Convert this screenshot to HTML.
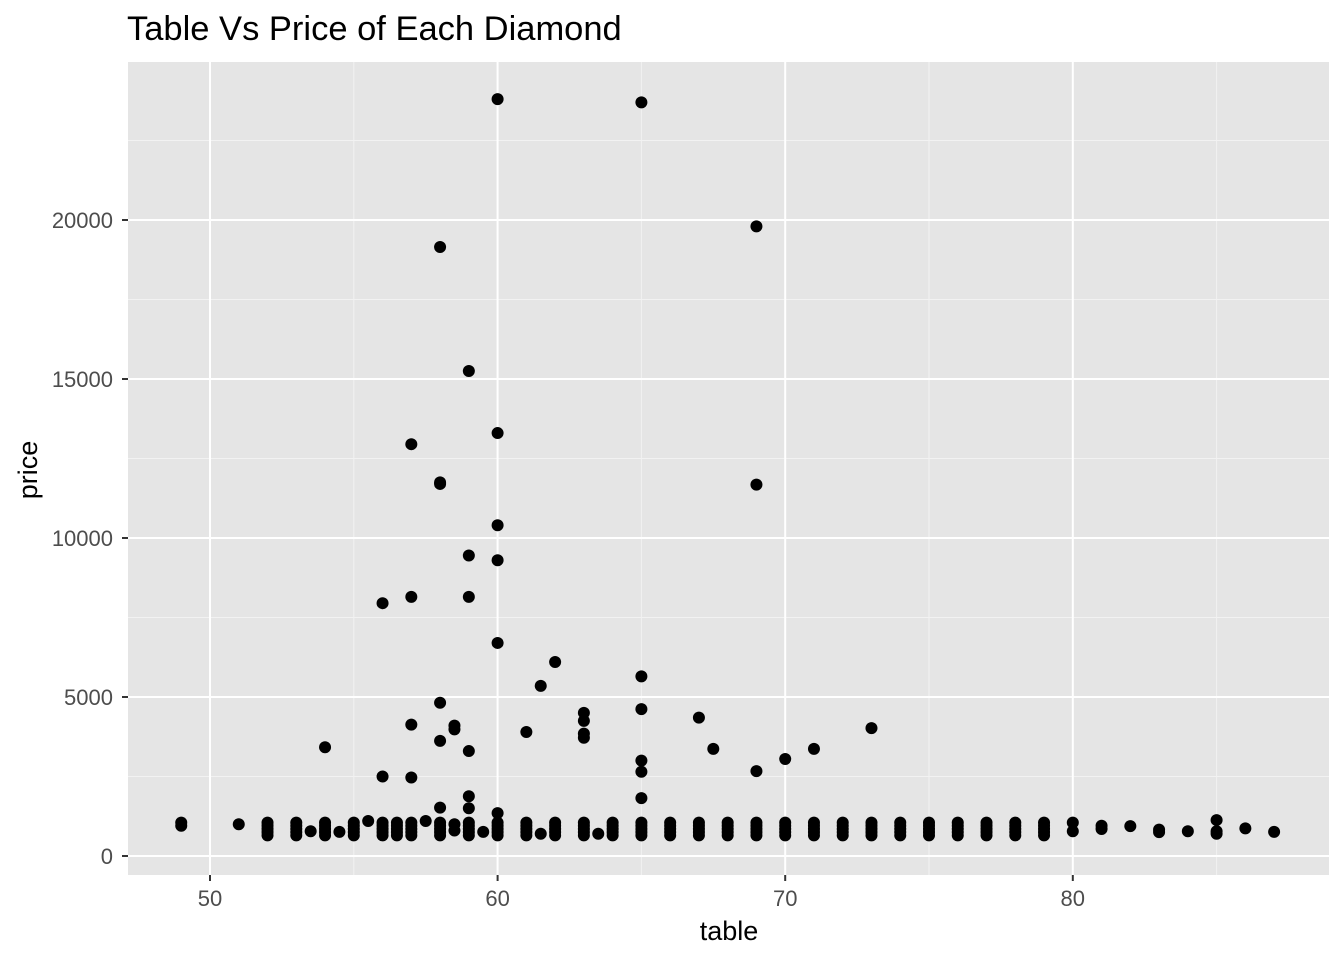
<!DOCTYPE html>
<html><head><meta charset="utf-8"><style>
body{margin:0;background:#fff;font-family:"Liberation Sans",Arial,sans-serif}
svg text{font-family:"Liberation Sans",Arial,sans-serif}
</style></head><body>
<svg id="chart" width="1344" height="960" xmlns="http://www.w3.org/2000/svg">
<rect x="128" y="62" width="1201" height="813" fill="#e5e5e5"/>
<g id="grid"></g><g id="ticks"></g><g id="pts"></g>
<text x="127" y="40" font-size="34.5" fill="#000">Table Vs Price of Each Diamond</text>
<text x="729" y="940" font-size="27" text-anchor="middle" fill="#000">table</text>
<text transform="translate(37,470) rotate(-90)" font-size="27" text-anchor="middle" fill="#000">price</text>
</svg>
<script>
const xTicks=[50,60,70,80];
const xMinor=[55,65,75,85];
const yTicks=[0,5000,10000,15000,20000];
const yMinor=[2500,7500,12500,17500,22500];
const outlierTable=[60,65,69,58,59,60,57,58,58,69,60,59,60,56,57,59,60,62,61.5,65,58,65,63,63,67,57,58.5,58.5,73,61,63,63,58,54,67.5,71,59,70,65,65,69,56,57,59,65,58,59,60];
const outlierPrice=[23800,23700,19800,19150,15250,13300,12950,11700,11750,11680,10400,9450,9300,7950,8150,8150,6700,6100,5350,5650,4820,4620,4500,4250,4350,4130,4100,3980,4020,3900,3850,3720,3620,3420,3370,3370,3300,3050,3000,2650,2670,2500,2470,1880,1820,1520,1500,1350];
const bandTables=[52,53,54,55,56,56.5,57,58,59,60,61,62,63,64,65,66,67,68,69,70,71,72,73,74,75,76,77,78,79];
const bandPrices=[650,750,850,950,1050];
const extraTable=[49,49,51,53.5,54.5,55.5,57.5,58.5,58.5,59.5,61.5,63.5,80,80,81,81,82,83,83,84,85,85,85,86,87];
const extraPrice=[950,1050,1000,780,760,1100,1100,800,1000,760,700,700,780,1050,850,950,940,750,830,780,700,780,1130,870,760];
const X=v=>210+(v-50)*28.76, Y=v=>856-v*0.0318;
const ns="http://www.w3.org/2000/svg";
const grid=document.getElementById('grid'),tk=document.getElementById('ticks'),pts=document.getElementById('pts');
function mk(p,tag,a){const e=document.createElementNS(ns,tag);for(const k in a)e.setAttribute(k,a[k]);p.appendChild(e);return e;}
xMinor.forEach(v=>{const e=mk(grid,'line',{x1:X(v),x2:X(v),y1:62,y2:875,stroke:'#f2f2f2','stroke-width':1});

});
yMinor.forEach(v=>{const e=mk(grid,'line',{x1:128,x2:1329,y1:Y(v),y2:Y(v),stroke:'#f2f2f2','stroke-width':1});

});
xTicks.forEach(v=>{const e=mk(grid,'line',{x1:X(v),x2:X(v),y1:62,y2:875,stroke:'#fff','stroke-width':2});


mk(tk,'line',{x1:X(v),x2:X(v),y1:875,y2:881,stroke:'#333','stroke-width':2});
const t=mk(tk,'text',{x:X(v),y:906,'font-size':22,'text-anchor':'middle',fill:'#4d4d4d'});t.textContent=v;

});
yTicks.forEach(v=>{const e=mk(grid,'line',{x1:128,x2:1329,y1:Y(v),y2:Y(v),stroke:'#fff','stroke-width':2});


mk(tk,'line',{x1:122,x2:128,y1:Y(v),y2:Y(v),stroke:'#333','stroke-width':2});
const t=mk(tk,'text',{x:113,y:Y(v)+8,'font-size':22,'text-anchor':'end',fill:'#4d4d4d'});t.textContent=v;

});
function dot(t,p){const c=mk(pts,'circle',{cx:X(t),cy:Y(p),r:6,fill:'#000'});

}
bandTables.forEach(t=>bandPrices.forEach(p=>dot(t,p)));
extraTable.forEach((t,i)=>dot(t,extraPrice[i]));
outlierTable.forEach((t,i)=>dot(t,outlierPrice[i]));
</script>
</body></html>
